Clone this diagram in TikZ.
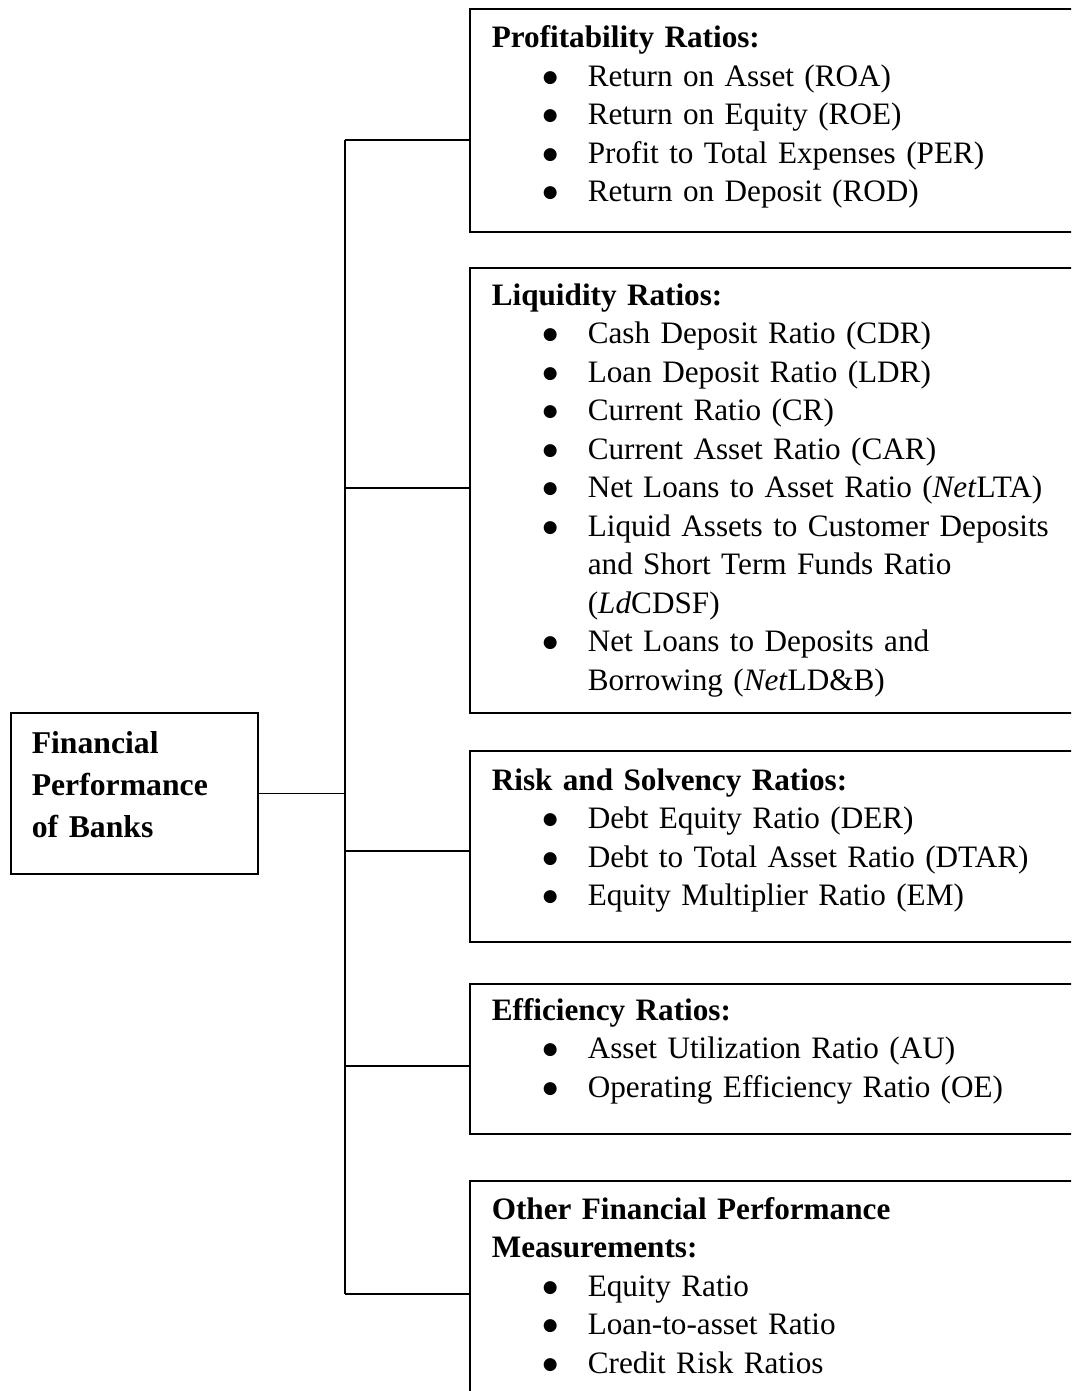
\documentclass[tikz,border=0pt]{standalone}
\usepackage{fontspec}
\setmainfont{Liberation Serif}
\newfontfamily\dejavu{DejaVu Sans}

\newcommand{\itm}[1]{\par\hangindent=96pt\hangafter=0\noindent\llap{\raisebox{4pt}{\dejavu\fontsize{17}{17}\selectfont ●}\hspace{30pt}}#1\par}

\begin{document}
\begin{tikzpicture}[x=1pt,y=-1pt,line width=1.6pt,
  rbox/.style={draw,line width=2pt,anchor=north west,inner sep=0pt,minimum width=640pt},
  rtext/.style={anchor=base west,inner sep=0pt,text width=600pt,align=left,font=\fontsize{31.2}{38.5}\selectfont}
]
\useasboundingbox (0,0) rectangle (1071,1391);
\clip (0,0) rectangle (1071,1391);

% main box
\node[draw,line width=2pt,anchor=north west,inner sep=0pt,minimum width=247pt,minimum height=161pt] (fpb) at (10,712) {};
\node[rtext,text width=220pt,font=\bfseries\fontsize{31.7}{42}\selectfont] (fpbtext) at (31,753) {Financial\\Performance\\of Banks};

% ratio boxes
\node[rbox,minimum height=223pt] (prof) at (469,8) {};
\node[rbox,minimum height=445pt] (liq) at (469,267) {};
\node[rbox,minimum height=191pt] (risk) at (469,750) {};
\node[rbox,minimum height=150pt] (eff) at (469,983) {};
\node[rbox,minimum height=240pt] (oth) at (469,1180) {};

\node[rtext] (proftext) at (491,48) {\textbf{Profitability Ratios:}
  \itm{Return on Asset (ROA)}
  \itm{Return on Equity (ROE)}
  \itm{Profit to Total Expenses (PER)}
  \itm{Return on Deposit (ROD)}};
\node[rtext] (liqtext) at (491,305) {\textbf{Liquidity Ratios:}
  \itm{Cash Deposit Ratio (CDR)}
  \itm{Loan Deposit Ratio (LDR)}
  \itm{Current Ratio (CR)}
  \itm{Current Asset Ratio (CAR)}
  \itm{Net Loans to Asset Ratio (\textit{Net}LTA)}
  \itm{Liquid Assets to Customer Deposits\newline and Short Term Funds Ratio\newline (\textit{Ld}CDSF)}
  \itm{Net Loans to Deposits and\newline Borrowing (\textit{Net}LD\&B)}};
\node[rtext] (risktext) at (491,790) {\textbf{Risk and Solvency Ratios:}
  \itm{Debt Equity Ratio (DER)}
  \itm{Debt to Total Asset Ratio (DTAR)}
  \itm{Equity Multiplier Ratio (EM)}};
\node[rtext] (efftext) at (491,1020) {\textbf{Efficiency Ratios:}
  \itm{Asset Utilization Ratio (AU)}
  \itm{Operating Efficiency Ratio (OE)}};
\node[rtext] (othtext) at (491,1219) {\textbf{Other Financial Performance\newline Measurements:}
  \itm{Equity Ratio}
  \itm{Loan-to-asset Ratio}
  \itm{Credit Risk Ratios}};

% connectors
\coordinate (j1) at (345,140);
\coordinate (j2) at (345,488);
\coordinate (j3) at (345,851);
\coordinate (j4) at (345,1066);
\coordinate (j5) at (345,1294);
\draw (fpb.east) -- (fpb.east -| j1);
\draw (j1) -- (j5);
\foreach \j/\b in {j1/prof,j2/liq,j3/risk,j4/eff,j5/oth}
  \draw (\j) -- (\j -| \b.west);
\end{tikzpicture}
\end{document}
